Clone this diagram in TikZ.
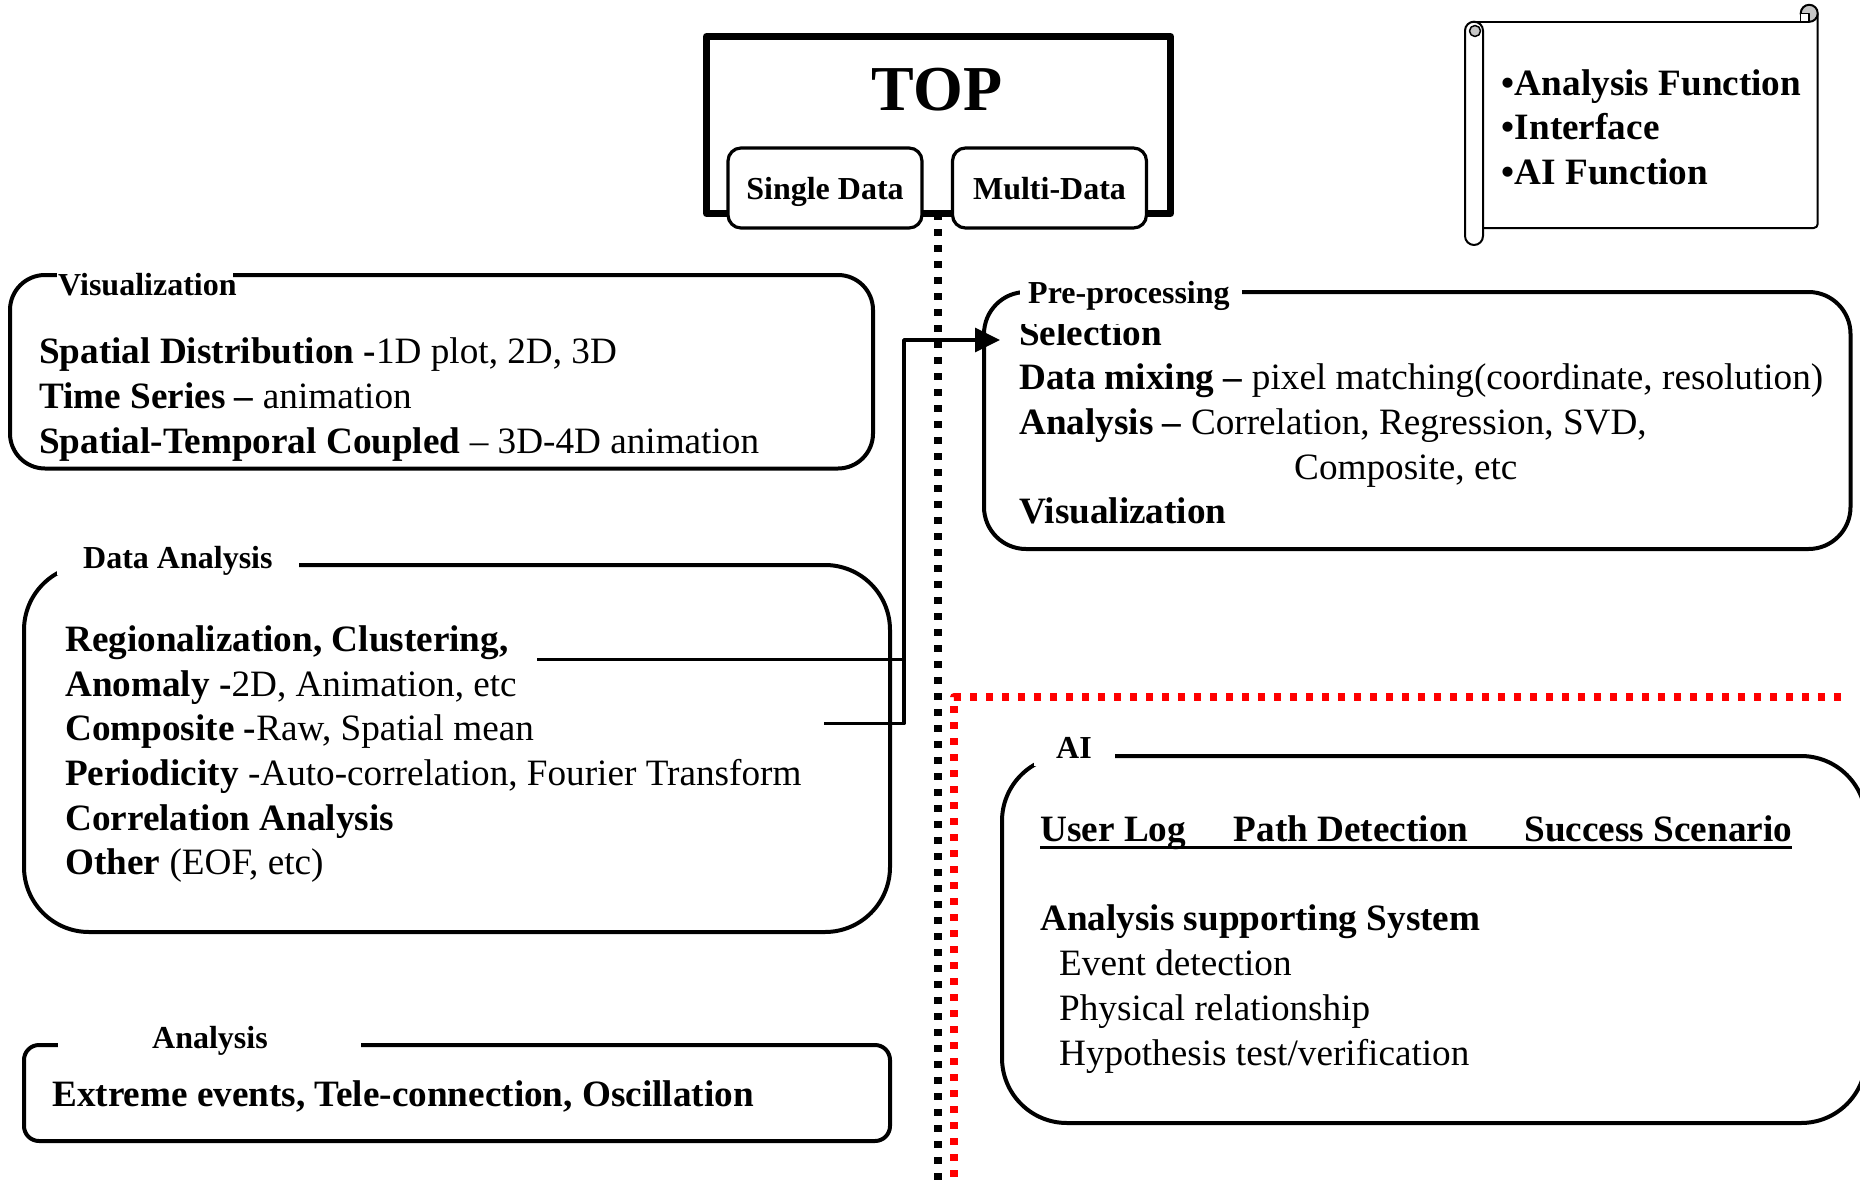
\documentclass[tikz,border=0pt]{standalone}
\usepackage{fontspec}
\setmainfont{Liberation Serif}
\usetikzlibrary{arrows.meta}
\begin{document}
\begin{tikzpicture}[x=1pt,y=-1pt,line join=round,
  body/.style={anchor=base west,inner sep=0pt,font=\fontsize{37.2}{44}\selectfont},
  bbody/.style={anchor=base west,inner sep=0pt,font=\fontsize{37.2}{44}\selectfont\bfseries},
  lbl/.style={anchor=base west,inner sep=0pt,font=\fontsize{32}{38}\selectfont\bfseries},
  panel/.style={draw,line width=4pt,inner sep=0pt},
  cover/.style={fill=white,inner sep=0pt},
  tab/.style={draw,fill=white,line width=3.2pt,rounded corners=13pt,minimum width=194pt,minimum height=80pt,inner sep=0pt},
  tabtext/.style={anchor=base,inner sep=0pt,font=\fontsize{32}{38}\selectfont\bfseries},
  dotline/.style={line width=8pt,dash pattern=on 7pt off 9pt},
  link/.style={line width=3.5pt},
  scroll/.style={line width=2pt}]

\useasboundingbox (0,0) rectangle (1860,1185);

% dotted dividers
\draw[dotline] (937.5,213) -- (937.5,1185);
\draw[dotline,red] (1841,697) -- (954,697) -- (954,1185);

% title frame with its two tabs
\node[draw,line width=7pt,minimum width=464pt,minimum height=177pt,inner sep=0pt] (top) at (938.5,125) {};
\node[anchor=base,inner sep=0pt,font=\fontsize{64}{72}\selectfont\bfseries] (toptext) at (937,110.7) {TOP};
\node[tab] (single) at (825,188) {};
\node[tabtext] (singletext) at (825,200) {Single Data};
\node[tab] (multi) at (1049.5,188) {};
\node[tabtext] (multitext) at (1049.5,200) {Multi-Data};

% scroll with the list of functions
\draw[scroll] (1474,21.7) -- (1809.2,21.7);
\draw[scroll,rounded corners=4pt] (1817.7,13.3) -- (1817.7,228) -- (1483,228);
\draw[scroll,rounded corners=9pt,fill=white] (1465,21.7) rectangle (1483,245);
\draw[line width=1.5pt,fill=gray!45] (1475,31) circle[radius=5.5];
\draw[scroll,fill=gray!45] (1809.2,13.3) circle[radius=8.5];
\draw[line width=1.5pt,fill=white] (1800.7,13.3) rectangle (1809.2,21.7);
\node[bbody] (f1) at (1501.7,95.5) {•Analysis Function};
\node[bbody] (f2) at (1501.7,139.5) {•Interface};
\node[bbody] (f3) at (1501.7,184.5) {•AI Function};

% Visualization panel
\node[panel,rounded corners=35pt,minimum width=863pt,minimum height=193.5pt] (vis) at (441.5,371.75) {};
\node[cover,minimum width=176pt,minimum height=24pt] (viscover) at (145,275) {};
\node[lbl] (vislabel) at (58,295) {Visualization};
\node[body] (v1) at (39,363) {\textbf{Spatial Distribution -}1D plot, 2D, 3D};
\node[body] (v2) at (39,408) {\textbf{Time Series –} animation};
\node[body] (v3) at (39,453) {\textbf{Spatial-Temporal Coupled} – 3D-4D animation};

% Data Analysis panel
\node[panel,rounded corners=65pt,minimum width=866pt,minimum height=367pt] (dana) at (457,748.5) {};
\node[cover,minimum width=242pt,minimum height=40pt] (danacover) at (178,555) {};
\node[lbl] (danalabel) at (83,568) {Data Analysis};
\node[bbody] (d1) at (65,651) {Regionalization, Clustering,};
\node[body] (d2) at (65,696) {\textbf{Anomaly -}2D, Animation, etc};
\node[body] (d3) at (65,740) {\textbf{Composite -}Raw, Spatial mean};
\node[body] (d4) at (65,785) {\textbf{Periodicity} -Auto-correlation, Fourier Transform};
\node[bbody] (d5) at (65,830) {Correlation Analysis};
\node[body] (d6) at (65,874) {\textbf{Other} (EOF, etc)};

% Analysis panel
\node[panel,rounded corners=15pt,minimum width=866pt,minimum height=96pt] (ana) at (457,1093) {};
\node[cover,minimum width=303pt,minimum height=24pt] (anacover) at (209.5,1040) {};
\node[lbl] (analabel) at (152,1048) {Analysis};
\node[bbody] (a1) at (52,1106) {Extreme events, Tele-connection, Oscillation};

% Pre-processing panel
\node[panel,rounded corners=42pt,minimum width=866.5pt,minimum height=257pt] (pre) at (1417.25,420.5) {};
\node[bbody] (p1) at (1019,345) {Selection};
\node[cover,minimum width=222pt,minimum height=54pt] (precover) at (1131,297) {};
\node[lbl] (prelabel) at (1028,303) {Pre-processing};
\node[body] (p2) at (1019,389.6) {\textbf{Data mixing –} pixel matching(coordinate, resolution)};
\node[body] (p3) at (1019,434) {\textbf{Analysis –} Correlation, Regression, SVD,};
\node[body] (p4) at (1294,479) {Composite, etc};
\node[bbody] (p5) at (1019,523.5) {Visualization};

% AI panel
\node[panel,rounded corners=65pt,minimum width=864pt,minimum height=367pt] (ai) at (1434,939.5) {};
\node[cover,minimum width=81pt,minimum height=34pt] (aicover) at (1074.5,749) {};
\node[lbl] (ailabel) at (1056,758) {AI};
\node[bbody] (u1) at (1040.3,841.7) {User Log};
\node[bbody] (u2) at (1233.6,841.7) {Path Detection};
\node[bbody] (u3) at (1524.3,841.7) {Success Scenario};
\draw[line width=2.5pt] ([yshift=-6pt]u1.base west) -- ([yshift=-6pt]u3.base east);
\node[bbody] (s0) at (1040,930) {Analysis supporting System};
\node[body] (s1) at (1059,975) {Event detection};
\node[body] (s2) at (1059,1020) {Physical relationship};
\node[body] (s3) at (1059,1065) {Hypothesis test/verification};

% connector from the analysis list into pre-processing
\coordinate (regout) at (537,659.5);
\coordinate (compout) at (824,723.6);
\coordinate (trunk) at (904,723.6);
\coordinate (selin) at (1000,340);
\draw[link] (regout) -- (regout -| trunk);
\draw[link,-{Triangle[length=25pt,width=24pt]}] (compout) -- (trunk) -- (trunk |- selin) -- (selin);
\end{tikzpicture}
\end{document}
